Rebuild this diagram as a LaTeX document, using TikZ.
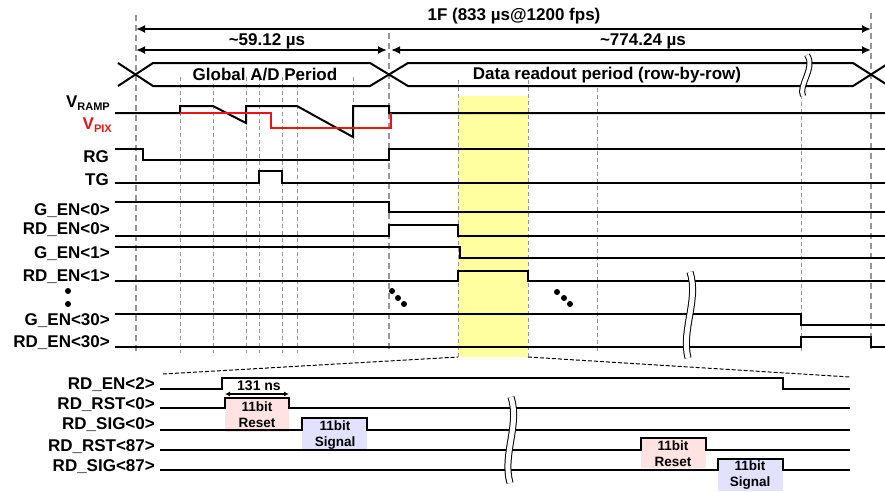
\documentclass[tikz,border=0pt]{standalone}
\usepackage{fontspec}
\setmainfont{Liberation Sans}
\usetikzlibrary{arrows.meta,positioning}
\definecolor{myred}{RGB}{235,20,20}
\definecolor{myyellow}{RGB}{255,255,160}
\definecolor{mypink}{RGB}{255,226,226}
\definecolor{mylav}{RGB}{226,226,255}
\definecolor{mygray}{RGB}{150,150,150}

\begin{document}
\begin{tikzpicture}[x=1pt,y=-1pt,every node/.style={font=\fontsize{17}{19}\selectfont\bfseries}]
\tikzstyle{sig}=[line width=2pt,line join=miter]
\tikzstyle{lab}=[anchor=east,inner sep=0pt]
\tikzstyle{dim}=[line width=2pt,{Latex[length=9pt,width=8pt]}-{Latex[length=9pt,width=8pt]}]
\tikzstyle{gd}=[mygray,line width=1.3pt,dash pattern=on 6pt off 4pt]
\tikzstyle{fd}=[mygray,line width=0.8pt,dash pattern=on 4pt off 3pt]
\tikzstyle{zd}=[line width=1pt,dash pattern=on 4pt off 2pt]
\tikzstyle{brk}=[line width=1pt,double=white,double distance=5pt]
\tikzstyle{bit}=[align=center,inner sep=0pt,font=\fontsize{13.5}{16}\selectfont\bfseries]
\tikzstyle{dot}=[circle,fill,inner sep=0pt,minimum size=6pt]
\useasboundingbox (0,0) rectangle (885,491);
\clip (0,0) rectangle (885,491);

\fill[myyellow] (458,96) rectangle (528,357);

\foreach \x/\a/\b in {180/77/353,213/77/353,246/77/353,259/77/353,282/77/353,297/77/353,353/77/353,458/80/357,528/80/357,597/88/353,801/88/353}
  \draw[fd] (\x,\a) -- (\x,\b);
\draw[gd] (136,15) -- (136,355);
\draw[gd] (389,33) -- (389,352);
\draw[gd] (871,13) -- (871,352);

\coordinate (a0) at (136,29);
\coordinate (a1) at (871,29);
\coordinate (b0) at (136,50);
\coordinate (b1) at (387,50);
\coordinate (b2) at (391,50);
\coordinate (b3) at (871,50);
\draw[dim] (a0) -- (a1);
\draw[dim] (b0) -- (b1);
\draw[dim] (b2) -- (b3);
\node (tf) at (514,16) {1F (833 µs@1200 fps)};
\node (tg) at (267,41) {\textasciitilde 59.12 µs};
\node (tr) at (643,41) {\textasciitilde 774.24 µs};

\draw[sig] (118,63) -- (153,86) -- (370,86) -- (408,63) -- (853,63) -- (889,86);
\draw[sig] (118,86) -- (153,63) -- (370,63) -- (408,86) -- (853,86) -- (889,63);
\node (gp) at (265,75) {Global A/D Period};
\node (dp) at (607,75) {Data readout period (row-by-row)};
\draw[brk,double distance=4pt] (807,55) .. controls (816,68) and (798,85) .. (803,96);

\node[lab] (vr) at (110,103) {V\raisebox{-3pt}{\fontsize{11}{11}\selectfont RAMP}};
\node[lab,myred] (vp) at (112,125) {V\raisebox{-3pt}{\fontsize{11}{11}\selectfont PIX}};
\node[lab] (rg) at (109,157) {RG};
\node[lab] (tgl) at (109,180) {TG};
\node[lab] (g0) at (110,211) {G\_EN<0>};
\node[lab] (r0) at (110,230) {RD\_EN<0>};
\node[lab] (g1) at (110,254) {G\_EN<1>};
\node[lab] (r1) at (110,277) {RD\_EN<1>};
\node[lab] (g30) at (110,321) {G\_EN<30>};
\node[lab] (r30) at (110,343) {RD\_EN<30>};
\node[dot] (d1) at (68,291) {};
\node[dot] (d2) at (68,304) {};

\draw[sig] (115,113) -- (180,113) -- (180,106) -- (213,106) -- (246,123) -- (246,106) -- (297,106) -- (353,137) -- (353,106) -- (389,106) -- (389,113) -- (885,113);
\draw[sig,myred] (180,113) -- (271,113) -- (271,128) -- (391,128) -- (391,113);
\draw[sig] (115,149) -- (143,149) -- (143,160) -- (389,160) -- (389,149) -- (885,149);
\draw[sig] (115,183) -- (259,183) -- (259,171) -- (282,171) -- (282,183) -- (885,183);
\draw[sig] (115,202) -- (389,202) -- (389,212) -- (885,212);
\draw[sig] (115,236) -- (389,236) -- (389,225) -- (458,225) -- (458,236) -- (885,236);
\draw[sig] (115,247) -- (460,247) -- (460,258) -- (885,258);
\draw[sig] (115,281) -- (458,281) -- (458,271) -- (528,271) -- (528,281) -- (885,281);
\draw[sig] (115,314) -- (801,314) -- (801,325) -- (885,325);
\draw[sig] (115,347) -- (801,347) -- (801,337) -- (871,337) -- (871,347) -- (885,347);
\draw[brk] (690,272) .. controls (699,300) and (681,330) .. (688,358);

\node[dot] (e1) at (392,291) {};
\node[dot] (e2) at (398,298) {};
\node[dot] (e3) at (404,304) {};
\node[dot] (f1) at (557,292) {};
\node[dot] (f2) at (564,298) {};
\node[dot] (f3) at (570,304) {};

\coordinate (z0) at (163,374);
\coordinate (z1) at (458,357);
\coordinate (z2) at (528,357);
\coordinate (z3) at (850,377);
\draw[zd] (z0) -- (z1);
\draw[zd] (z2) -- (z3);

\fill[mypink] (225,398) rectangle (289,432);
\fill[mylav] (302,418) rectangle (367,450);
\fill[mypink] (641,438) rectangle (706,468);
\fill[mylav] (718,459) rectangle (783,491);

\node[lab] (re2) at (155,385) {RD\_EN<2>};
\node[lab] (rr0) at (155,405) {RD\_RST<0>};
\node[lab] (rs0) at (155,425) {RD\_SIG<0>};
\node[lab] (rr87) at (155,447) {RD\_RST<87>};
\node[lab] (rs87) at (155,467) {RD\_SIG<87>};

\draw[sig] (160,389) -- (222,389) -- (222,378) -- (783,378) -- (783,389) -- (850,389);
\draw[sig] (160,408) -- (225,408) -- (225,398) -- (289,398) -- (289,408) -- (850,408);
\draw[sig] (160,430) -- (302,430) -- (302,418) -- (367,418) -- (367,430) -- (850,430);
\draw[sig] (160,450) -- (641,450) -- (641,438) -- (706,438) -- (706,450) -- (850,450);
\draw[sig] (160,470) -- (718,470) -- (718,459) -- (783,459) -- (783,470) -- (850,470);
\draw[brk] (511,397) .. controls (520,425) and (502,455) .. (510,483);

\coordinate (n0) at (225,394);
\coordinate (n1) at (289,394);
\draw[line width=1.2pt,{Latex[length=5pt,width=5pt]}-{Latex[length=5pt,width=5pt]}] (n0) -- (n1);
\node[font=\fontsize{14}{16}\selectfont\bfseries] (ns) at (259,386) {131 ns};

\node[bit] (x1) at (257,415) {11bit\\Reset};
\node[bit] (x2) at (335,435) {11bit\\Signal};
\node[bit] (x3) at (673,454) {11bit\\Reset};
\node[bit] (x4) at (750,475) {11bit\\Signal};
\end{tikzpicture}
\end{document}
